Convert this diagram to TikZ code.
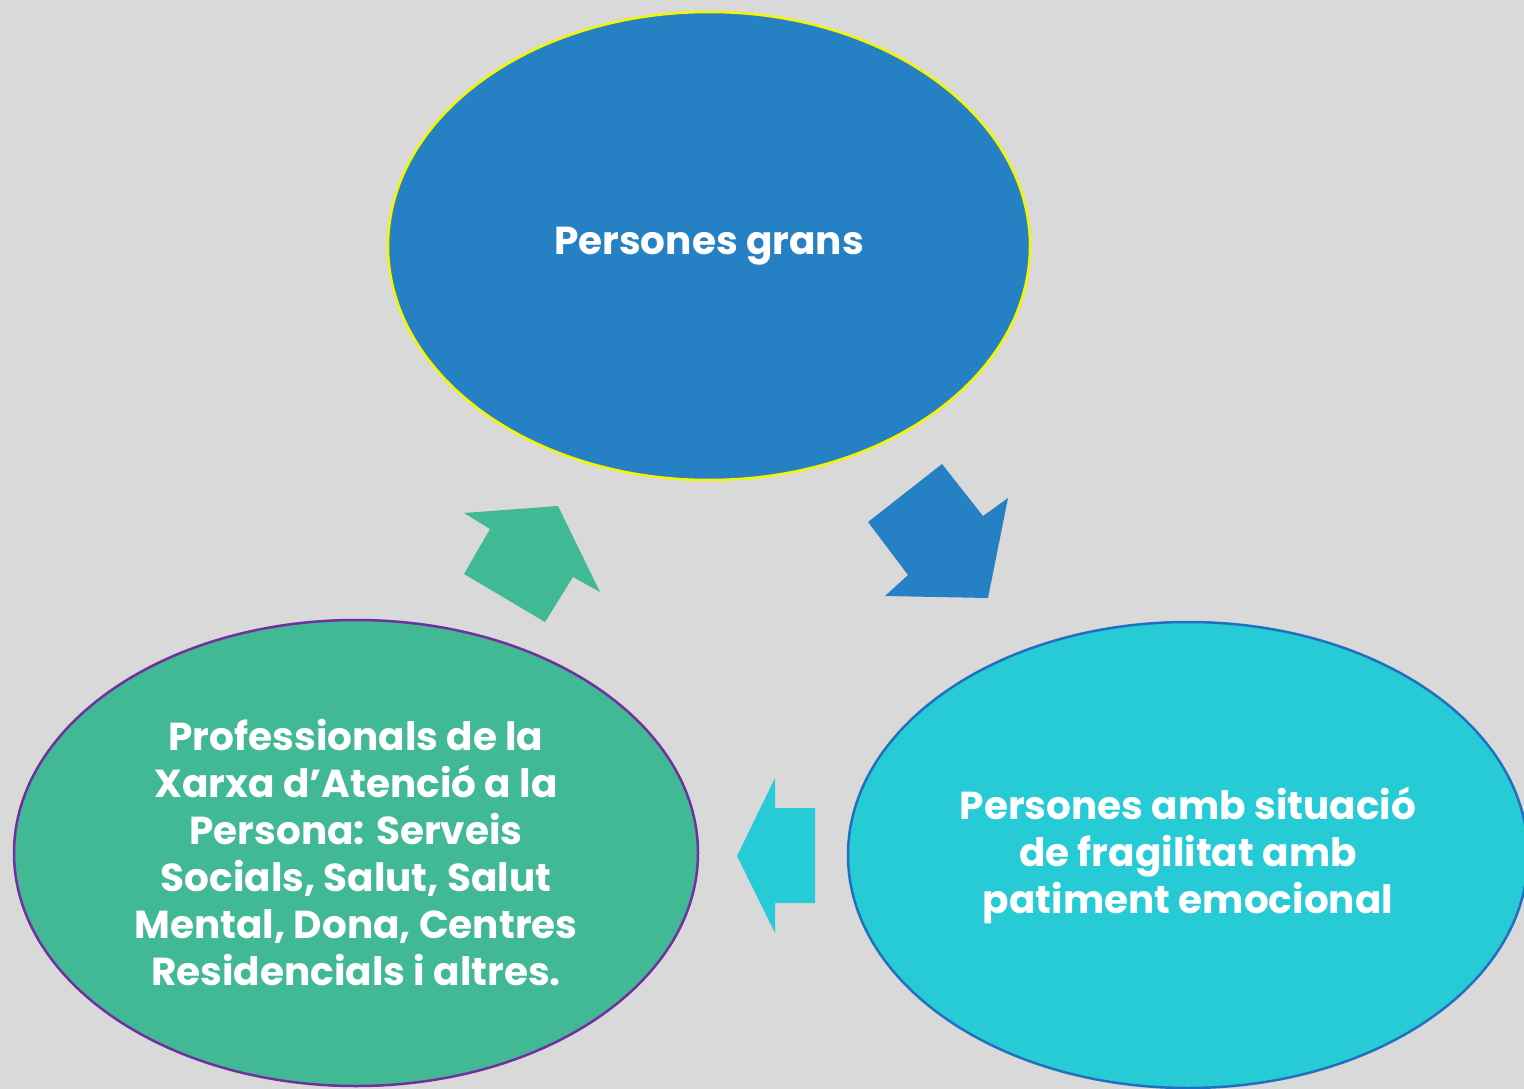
\documentclass[tikz,border=0pt]{standalone}
\usepackage{fontspec}
\setmainfont{Poppins}
\usetikzlibrary{shapes.geometric}
\definecolor{bgc}{HTML}{D9D9D9}
\definecolor{topblue}{HTML}{2581C4}
\definecolor{leftgreen}{HTML}{42B995}
\definecolor{rightcyan}{HTML}{27CBD6}
\definecolor{edgepurple}{HTML}{7030A0}
\definecolor{edgeblue}{HTML}{2170C0}
\definecolor{edgeyellow}{HTML}{F5F500}
\tikzset{
  bubble/.style={ellipse, line width=2.5pt, text=white, align=center,
    font=\bfseries\fontsize{39}{47}\selectfont, inner sep=0pt},
  blockarrow/.style={draw=none}
}
\begin{document}
\begin{tikzpicture}[x=1pt,y=-1pt]
\useasboundingbox (0,0) rectangle (1524,1089);
\clip (0,0) rectangle (1524,1089);
\fill[bgc] (0,0) rectangle (1524,1089);
\node[bubble, fill=topblue, draw=edgeyellow, minimum width=642pt, minimum height=468pt] (top) at (709,246) {Persones grans};
\node[bubble, fill=leftgreen, draw=edgepurple, minimum width=684pt, minimum height=466pt] (left) at (356,853) {Professionals de la\\Xarxa d’Atenció a la\\Persona: Serveis\\Socials, Salut, Salut\\Mental, Dona, Centres\\Residencials i altres.};
\node[bubble, fill=rightcyan, draw=edgeblue, minimum width=680pt, minimum height=466pt] (right) at (1188,855) {Persones amb situació\\de fragilitat amb\\patiment emocional};
% green arrow (left -> top)
\fill[leftgreen, blockarrow] (464,513) -- (558,506) -- (600,592) -- (573,577) -- (545,622) -- (464,574) -- (490,529) -- cycle;
% blue arrow (top -> right)
\fill[topblue, blockarrow] (942,464) -- (983,516) -- (1008,498) -- (988,598) -- (885,596) -- (908,575) -- (868,522) -- cycle;
% cyan arrow (right -> left)
\fill[rightcyan, blockarrow] (775,778) -- (775,808) -- (815,808) -- (815,903) -- (775,903) -- (775,933) -- (737,856) -- cycle;
\end{tikzpicture}
\end{document}
